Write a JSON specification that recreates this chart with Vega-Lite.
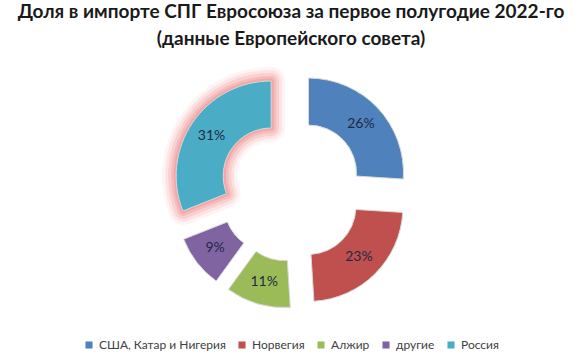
{
  "$schema": "https://vega.github.io/schema/vega-lite/v6.json",
  "width": 582,
  "height": 358,
  "autosize": {"type": "fit", "contains": "padding"},
  "padding": {"top": 3, "bottom": 7, "left": 5, "right": 5},
  "background": "white",
  "view": {"stroke": null},
  "config": {"legend": {"layout": {"bottom": {"anchor": "middle"}}}},
  "title": {
    "text": ["Доля в импорте СПГ Евросоюза за первое полугодие 2022-го", "(данные Европейского совета)"],
    "font": "Lato",
    "fontSize": 19,
    "fontWeight": "bold",
    "color": "#1a1a1a",
    "lineHeight": 27,
    "anchor": "middle",
    "offset": 5
  },
  "data": {
    "values": [
      {"name": "США, Катар и Нигерия", "value": 0.26, "i": 1},
      {"name": "Норвегия", "value": 0.23, "i": 2},
      {"name": "Алжир", "value": 0.11, "i": 3},
      {"name": "другие", "value": 0.09, "i": 4},
      {"name": "Россия", "value": 0.31, "i": 5}
    ]
  },
  "encoding": {
    "theta": {"field": "value", "type": "quantitative", "stack": true},
    "order": {"field": "i", "type": "quantitative"}
  },
  "layer": [
    {
      "mark": {"type": "arc", "radius": 95, "radius2": 48, "fillOpacity": 0, "stroke": "#f08a8a", "strokeWidth": 28, "strokeJoin": "round",
        "xOffset": {"expr": "24*sin((scale('theta', datum.value_start)+scale('theta', datum.value_end))/2)"},
        "yOffset": {"expr": "-24*cos((scale('theta', datum.value_start)+scale('theta', datum.value_end))/2)"}},
      "encoding": {"strokeOpacity": {"condition": {"test": "datum.name === 'Россия'", "value": 0.09}, "value": 0}}
    },
    {
      "mark": {"type": "arc", "radius": 95, "radius2": 48, "fillOpacity": 0, "stroke": "#f08a8a", "strokeWidth": 22, "strokeJoin": "round",
        "xOffset": {"expr": "24*sin((scale('theta', datum.value_start)+scale('theta', datum.value_end))/2)"},
        "yOffset": {"expr": "-24*cos((scale('theta', datum.value_start)+scale('theta', datum.value_end))/2)"}},
      "encoding": {"strokeOpacity": {"condition": {"test": "datum.name === 'Россия'", "value": 0.15}, "value": 0}}
    },
    {
      "mark": {"type": "arc", "radius": 95, "radius2": 48, "fillOpacity": 0, "stroke": "#f08a8a", "strokeWidth": 16, "strokeJoin": "round",
        "xOffset": {"expr": "24*sin((scale('theta', datum.value_start)+scale('theta', datum.value_end))/2)"},
        "yOffset": {"expr": "-24*cos((scale('theta', datum.value_start)+scale('theta', datum.value_end))/2)"}},
      "encoding": {"strokeOpacity": {"condition": {"test": "datum.name === 'Россия'", "value": 0.22}, "value": 0}}
    },
    {
      "mark": {"type": "arc", "radius": 95, "radius2": 48, "fillOpacity": 0, "stroke": "#f08a8a", "strokeWidth": 10, "strokeJoin": "round",
        "xOffset": {"expr": "24*sin((scale('theta', datum.value_start)+scale('theta', datum.value_end))/2)"},
        "yOffset": {"expr": "-24*cos((scale('theta', datum.value_start)+scale('theta', datum.value_end))/2)"}},
      "encoding": {"strokeOpacity": {"condition": {"test": "datum.name === 'Россия'", "value": 0.3}, "value": 0}}
    },
    {
      "mark": {"type": "arc", "radius": 95, "radius2": 48, "fillOpacity": 0, "stroke": "#f08a8a", "strokeWidth": 5, "strokeJoin": "round",
        "xOffset": {"expr": "24*sin((scale('theta', datum.value_start)+scale('theta', datum.value_end))/2)"},
        "yOffset": {"expr": "-24*cos((scale('theta', datum.value_start)+scale('theta', datum.value_end))/2)"}},
      "encoding": {"strokeOpacity": {"condition": {"test": "datum.name === 'Россия'", "value": 0.4}, "value": 0}}
    },
    {
      "mark": {"type": "arc", "radius": 95, "radius2": 48, "stroke": "#d8d8d8", "strokeWidth": 1,
        "xOffset": {"expr": "24*sin((scale('theta', datum.value_start)+scale('theta', datum.value_end))/2)"},
        "yOffset": {"expr": "-24*cos((scale('theta', datum.value_start)+scale('theta', datum.value_end))/2)"}},
      "encoding": {
        "color": {
          "field": "name",
          "type": "nominal",
          "sort": ["США, Катар и Нигерия", "Норвегия", "Алжир", "другие", "Россия"],
          "scale": {
            "domain": ["США, Катар и Нигерия", "Норвегия", "Алжир", "другие", "Россия"],
            "range": ["#4f81bd", "#c0504d", "#9bbb59", "#8064a2", "#4bacc6"]
          },
          "legend": {
            "title": null,
            "orient": "bottom",
            "direction": "horizontal",
            "symbolType": "square",
            "symbolSize": 50,
            "symbolStrokeWidth": 0,
            "labelFont": "Lato",
            "labelFontSize": 12,
            "labelColor": "#404040",
            "labelOffset": 4,
            "columnPadding": 10,
            "offset": 14
          }
        }
      }
    },
    {
      "mark": {"type": "text", "radius": 72, "font": "Lato", "fontSize": 14, "color": "#1f2a44",
        "xOffset": {"expr": "24*sin((scale('theta', datum.value_start)+scale('theta', datum.value_end))/2)"},
        "yOffset": {"expr": "-24*cos((scale('theta', datum.value_start)+scale('theta', datum.value_end))/2)"}},
      "encoding": {"text": {"field": "value", "type": "quantitative", "format": ".0%"}}
    }
  ]
}
